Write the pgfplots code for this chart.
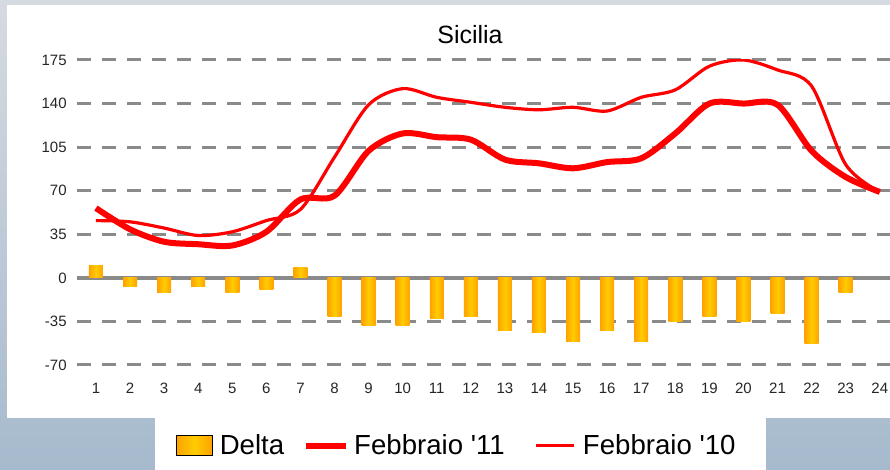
\documentclass[border=0pt]{standalone}
\usepackage{fontspec}
\setmainfont{Liberation Sans}
\usepackage{pgfplots}
\usepackage{pgfplotstable}
\pgfplotsset{compat=1.18}
\definecolor{cRed}{HTML}{FF0000}
\definecolor{cBarEdge}{HTML}{FFA200}
\definecolor{cBarMid}{HTML}{FFCC00}
\definecolor{cGrid}{HTML}{8A8A8A}
\definecolor{cBgTop}{HTML}{D6DAE1}
\definecolor{cBgBot}{HTML}{A6BACD}

% hourly delta (Feb '11 - Feb '10); hour 24 has no bar
\pgfplotstableread{
h d
1 10
2 -7
3 -11.5
4 -7
5 -11.5
6 -9
7 8
8 -31
9 -38
10 -38
11 -33
12 -31
13 -42
14 -44
15 -51
16 -42
17 -51
18 -35
19 -31
20 -35
21 -29
22 -53
23 -11.5
}\deltatab

\begin{document}
\begin{tikzpicture}
\useasboundingbox (0,0) rectangle (445pt,235pt);
% backdrop and white panels
\shade[top color=cBgTop, bottom color=cBgBot] (0,0) rectangle (445pt,235pt);
\fill[white] (3.5pt,26pt) rectangle (445pt,232.5pt);
\fill[white] (77.5pt,0pt) rectangle (383pt,26pt);
\begin{axis}[
    scale only axis, width=406.5pt, height=152.5pt,
    anchor=south west, at={(38.5pt,52.5pt)},
    xmin=0.443, xmax=24.3, ymin=-70, ymax=175,
    axis line style={draw=none}, tick style={draw=none},
    xtick={1,...,24}, ytick={-70,-35,35,70,105,140,175},
    extra y ticks={0},
    extra y tick style={grid=major, major grid style={solid, line width=2pt, cGrid}},
    ymajorgrids,
    major grid style={cGrid, line width=1.5pt, dash pattern=on 7pt off 5.5pt},
    tick label style={font=\fontsize{7.5}{9}\selectfont, text=black!85},
    /pgf/number format/assume math mode=true,
    yticklabel style={anchor=east, inner sep=0pt, xshift=-5pt},
    xticklabel style={anchor=center, inner sep=0pt, yshift=-11.5pt},
    title={Sicilia},
    title style={at={(0.4834,1.0426)}, anchor=center, inner sep=0pt,
        font=\fontsize{12.5}{14}\selectfont},
    legend columns=3,
    legend style={at={(0.1218,-0.264)}, anchor=west, draw=none, fill=none,
        inner sep=0pt, outer sep=0pt, font=\fontsize{13.8}{16}\selectfont,
        nodes={inner sep=0pt},
        /tikz/column 1/.style={column sep=3.5pt},
        /tikz/column 2/.style={column sep=9.5pt},
        /tikz/column 3/.style={column sep=2.5pt},
        /tikz/column 4/.style={column sep=15pt},
        /tikz/column 5/.style={column sep=3.5pt}},
]
% one path per bar so each bar gets its own side-to-side gradient
\pgfplotsinvokeforeach{1,...,23}{
  \addplot[ybar, bar width=7pt, bar shift=0pt, draw=none, forget plot,
      restrict x to domain=#1:#1,
      left color=cBarEdge, right color=cBarEdge, middle color=cBarMid]
      table[x=h, y=d] {\deltatab};
}
\addlegendimage{legend image code/.code={\shade[left color=cBarEdge, right color=cBarEdge, middle color=cBarMid] (0pt,-5pt) rectangle (18pt,5pt);}}
\addlegendentry{Delta}
\addplot[cRed, line width=3pt, smooth, line join=round, no markers,
    legend image code/.code={\draw[cRed, line width=3pt] (0pt,0pt) -- (20pt,0pt);}]
    coordinates {(1,56)(2,39)(3,29)(4,27)(5,26)(6,37)(7,63)(8,66)
    (9,102)(10,116)(11,113)(12,111)(13,95)(14,92)(15,88)(16,93)
    (17,96)(18,116)(19,140)(20,140)(21,139)(22,102)(23,81)(24,69)};
\addlegendentry{Febbraio \textquotesingle11}
\addplot[cRed, line width=1.6pt, smooth, line join=round, no markers,
    legend image code/.code={\draw[cRed, line width=1.6pt] (0pt,0pt) -- (19pt,0pt);}]
    coordinates {(1,46)(2,45)(3,40)(4,34)(5,37)(6,46)(7,55)(8,97)
    (9,139)(10,152)(11,145)(12,141)(13,137)(14,135)(15,137)(16,134)
    (17,145)(18,151)(19,170)(20,175)(21,167)(22,154)(23,91)(24,69)};
\addlegendentry{Febbraio \textquotesingle10}
\end{axis}
\end{tikzpicture}
\end{document}
